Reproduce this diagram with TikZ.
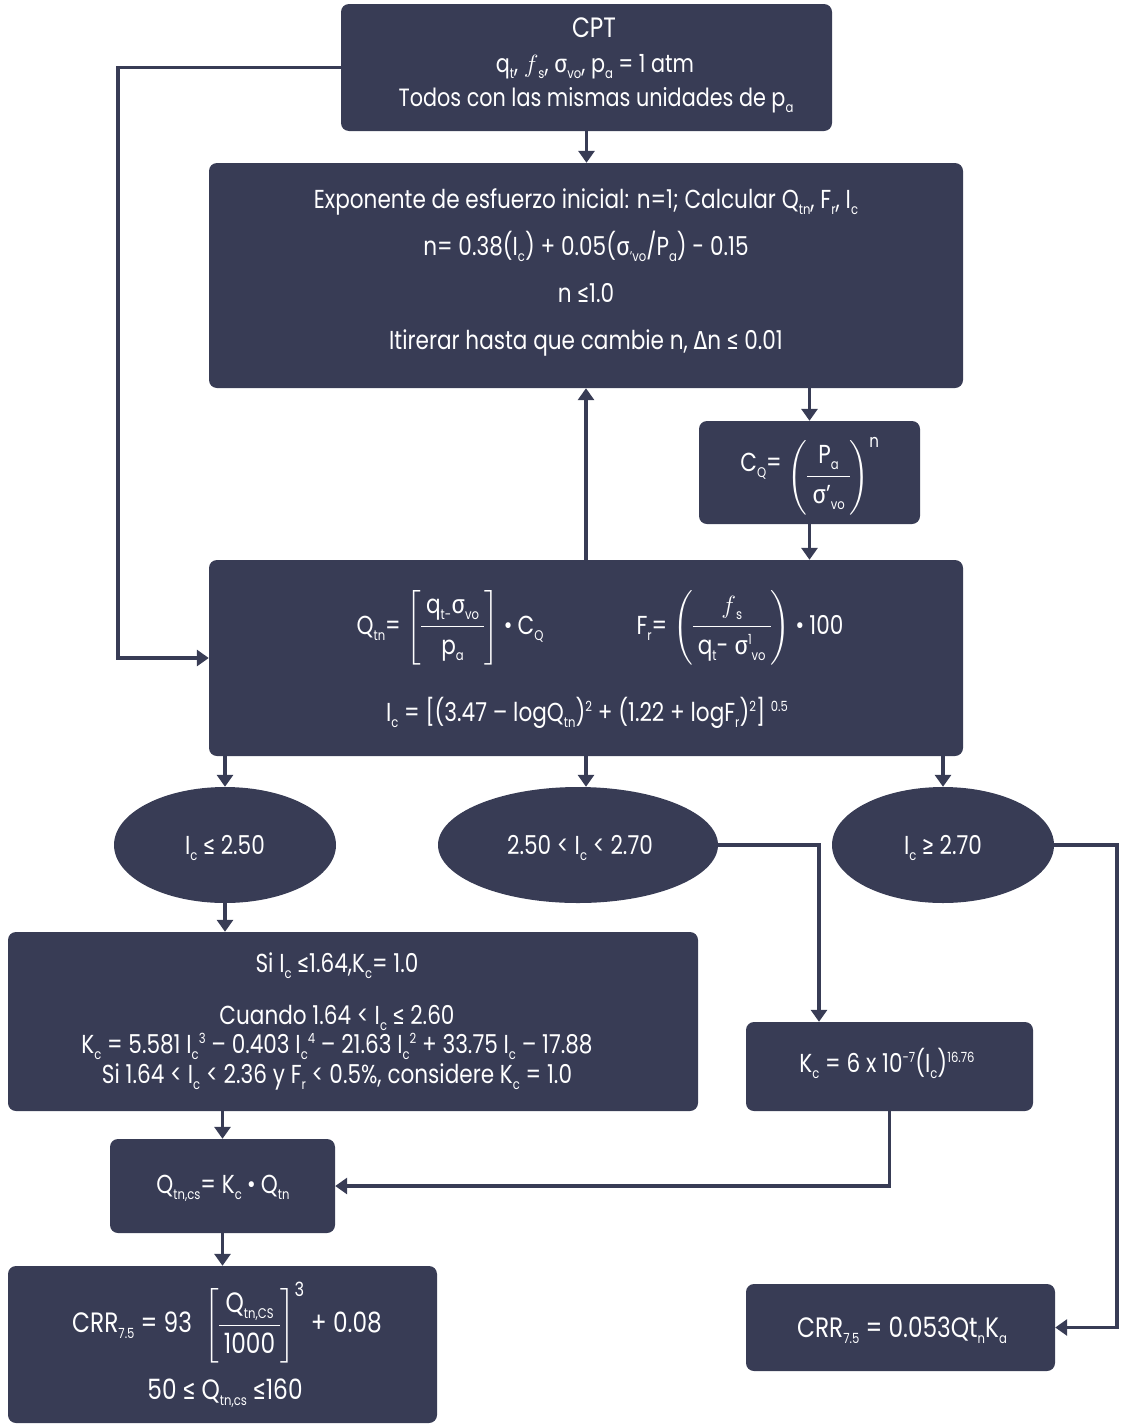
\documentclass[tikz,border=0pt]{standalone}
\usepackage{fontspec}
\usepackage{amsmath}
\setmainfont{Poppins}[FakeStretch=0.83]
\newfontfamily\symf{Fira Sans}[FakeStretch=0.9]
\usetikzlibrary{arrows.meta,shapes.geometric}
\definecolor{navy}{HTML}{383C55}
\newcommand{\lo}[1]{\raisebox{-6pt}{\fontsize{14}{14}\selectfont #1}}
\newcommand{\hi}[1]{\raisebox{10pt}{\fontsize{14}{14}\selectfont #1}}
\newcommand{\sg}{{\symf σ}}
\newcommand{\mle}{{\symf ≤}}
\newcommand{\mge}{{\symf ≥}}
\newcommand{\dlt}{{\symf Δ}}
\newcommand{\bul}{{\symf •}}
\newcommand{\ff}{{\fontsize{31}{31}\selectfont$f$}}
\setlength{\arrayrulewidth}{1.3pt}
\newcommand{\fr}[2]{\begin{tabular}{@{\hspace{5pt}}c@{\hspace{5pt}}}#1\\[3pt]\hline\rule{0pt}{27pt}#2\end{tabular}}
\begin{document}
\begin{tikzpicture}[x=1pt,y=-1pt,
  box/.style={fill=navy, rounded corners=8pt, inner sep=0pt, draw=none},
  oval/.style={ellipse, fill=navy, inner sep=0pt, minimum width=222pt, minimum height=116pt, text=white},
  txt/.style={text=white, inner sep=0pt, anchor=base},
  mtx/.style={text=white, inner sep=0pt, anchor=center},
  big/.style={font=\fontsize{28}{32}\selectfont},
  mid/.style={font=\fontsize{25}{30}\selectfont},
  arr/.style={line width=3.5pt, draw=navy, -{Triangle[length=12pt,width=16pt]}},
  every node/.append style={font=\fontsize{26}{30}\selectfont}]
\useasboundingbox (0,0) rectangle (1120,1424);
% boxes
\node[box, minimum width=491pt, minimum height=127pt] (cpt) at (586.5,67.5) {};
\node[box, minimum width=754pt, minimum height=225pt] (calc) at (586,275.5) {};
\node[box, minimum width=221pt, minimum height=103pt] (cq) at (809.5,472.5) {};
\node[box, minimum width=754pt, minimum height=196pt] (qbox) at (586,658) {};
\node[oval] (e1) at (225,845) {};
\node[oval, minimum width=280pt] (e2) at (578,845) {};
\node[oval] (e3) at (943,845) {};
\node[box, minimum width=690pt, minimum height=179pt] (b4) at (353,1021.5) {};
\node[box, minimum width=287pt, minimum height=89pt] (b5) at (889.5,1066.5) {};
\node[box, minimum width=225pt, minimum height=94pt] (b6) at (222.5,1186) {};
\node[box, minimum width=429pt, minimum height=157pt] (b7) at (222.5,1344.5) {};
\node[box, minimum width=309pt, minimum height=87pt] (b8) at (900.5,1327.5) {};
% texts
\node[txt, big] (t1a) at (594,37) {CPT};
\node[txt, mid] (t1b) at (595,72) {q\lo{t}, \ff\lo{s}, \sg\lo{vo}, p\lo{a} = 1 atm};
\node[txt, mid] (t1c) at (596,106) {Todos con las mismas unidades de p\lo{a}};
\node[txt] (t2a) at (586,208) {Exponente de esfuerzo inicial: n=1; Calcular Q\lo{tn}, F\lo{r}, I\lo{c}};
\node[txt] (t2b) at (586,255) {n= 0.38(I\lo{c}) + 0.05(\sg\lo{’vo}/P\lo{a}) - 0.15};
\node[txt] (t2c) at (586,302) {n \mle1.0};
\node[txt] (t2d) at (586,349) {Itirerar hasta que cambie n, \dlt n \mle\ 0.01};
\node[mtx] (t3) at (810,476) {\raisebox{12pt}{C\lo{Q}=} $\left(\fr{P\lo{a}}{\sg’\lo{vo}}\right)^{\text{n}}$};
\node[mtx] (t4a) at (450,628) {Q\lo{tn}= $\left[\fr{q\lo{t-}\sg\lo{vo}}{p\lo{a}}\right]$ \bul\ C\lo{Q}};
\node[mtx] (t4b) at (740,628) {F\lo{r}= $\left(\fr{\ff\lo{s}}{q\lo{t}- \sg\hi{1}\lo{vo}}\right)$ \bul\ 100};
\node[txt] (t4c) at (587,721) {I\lo{c} = [(3.47 – logQ\lo{tn})\hi{2} + (1.22 + logF\lo{r})\hi{2}] \hi{0.5}};
\node[txt] (t5a) at (225,854) {I\lo{c} \mle\ 2.50};
\node[txt] (t5b) at (580,854) {2.50 < I\lo{c} < 2.70};
\node[txt] (t5c) at (943,854) {I\lo{c} \mge\ 2.70};
\node[txt] (t6a) at (337,972) {Si I\lo{c} \mle 1.64,K\lo{c}= 1.0};
\node[txt] (t6b) at (337,1024) {Cuando 1.64 < I\lo{c} \mle\ 2.60};
\node[txt] (t6c) at (337,1053) {K\lo{c} = 5.581 I\lo{c}\hi{3} – 0.403 I\lo{c}\hi{4} – 21.63 I\lo{c}\hi{2} + 33.75 I\lo{c} – 17.88};
\node[txt] (t6d) at (337,1083) {Si 1.64 < I\lo{c} < 2.36 y F\lo{r} < 0.5\%, considere K\lo{c} = 1.0};
\node[txt] (t7) at (887,1072) {K\lo{c} = 6 x 10\hi{-7}(I\lo{c})\hi{16.76}};
\node[txt] (t8) at (223,1193) {Q\lo{tn,cs}= K\lo{c} \bul\ Q\lo{tn}};
\node[mtx, big] (t9a) at (227,1323) {CRR\lo{7.5} = 93 \ $\left[\fr{Q\lo{tn,CS}}{1000}\right]^{\text{3}}$ + 0.08};
\node[txt, big] (t9b) at (225,1399) {50 \mle\ Q\lo{tn,cs} \mle160};
\node[txt, big] (t10) at (902,1337) {CRR\lo{7.5} = 0.053Qt\lo{n}K\lo{a}};
% connectors
\draw[arr] (cpt.south) -- (cpt.south |- calc.north);
\draw[arr] (cq.north |- calc.south) -- (cq.north);
\draw[arr] (cq.south) -- (cq.south |- qbox.north);
\draw[arr] (qbox.north) -- (calc.south);
\draw[arr] (cpt.west) -- ++(-223,0) |- (qbox.west);
\draw[arr] (e1.north |- qbox.south) -- (e1.north);
\draw[arr] (qbox.south) -- (qbox.south |- e2.north);
\draw[arr] (e3.north |- qbox.south) -- (e3.north);
\draw[arr] (e1.south) -- (e1.south |- b4.north);
\draw[arr] (e2.east) -| ([xshift=-70.5pt]b5.north);
\draw[arr] (b5.south) |- (b6.east);
\draw[arr] (b6.north |- b4.south) -- (b6.north);
\draw[arr] (b6.south) -- (b6.south |- b7.north);
\draw[arr] (e3.east) -- ++(63,0) |- (b8.east);
\end{tikzpicture}
\end{document}
